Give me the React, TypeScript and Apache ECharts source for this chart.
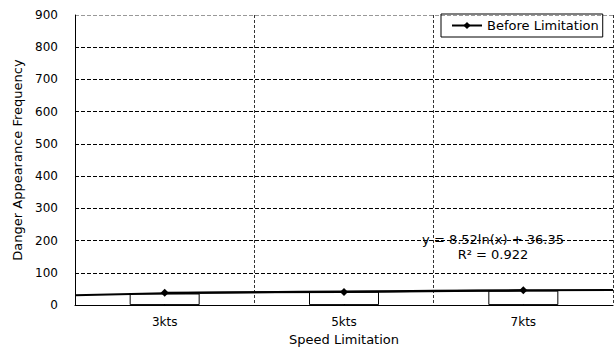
import React, { useEffect, useRef } from 'react';
import * as echarts from 'echarts';

const categories = ['3kts', '5kts', '7kts'];
const beforeLimitation = [38, 41, 46];
const boxValues = [36, 42, 45];
const trendX = [0.5, 1, 1.5, 2, 2.5, 3, 3.5];
const trendY = [30.5, 36.4, 39.8, 42.3, 44.2, 45.7, 47.0];
const yMin = 0;
const yMax = 900;
const yStep = 100;
const trendEquation = 'y = 8.52ln(x) + 36.35';
const trendR2 = 'R² = 0.922';

const FONT = 'DejaVu Sans, Liberation Sans, sans-serif';

export default function App() {
  const ref = useRef<HTMLDivElement>(null);
  useEffect(() => {
    document.body.style.margin = '0';
    const chart = echarts.init(ref.current!, null, { renderer: 'svg' });
    const gridColors = Array.from({ length: 10 }, (_, i) => (i === 9 ? '#999' : '#000'));
    chart.setOption({
      animation: false,
      backgroundColor: '#fff',
      textStyle: { fontFamily: FONT },
      grid: { left: 75, right: 3, top: 15, bottom: 42, containLabel: false },
      legend: {
        data: [{ name: 'Before Limitation' }],
        left: 441,
        top: 14,
        padding: [5, 4, 5, 10],
        borderColor: '#000',
        borderWidth: 1,
        itemWidth: 30,
        itemHeight: 9,
        itemGap: 6,
        textStyle: { fontSize: 13, color: '#000', fontFamily: FONT },
      },
      xAxis: [
        {
          type: 'category',
          data: categories,
          boundaryGap: true,
          name: 'Speed Limitation',
          nameLocation: 'middle',
          nameGap: 24,
          nameTextStyle: { fontSize: 13, color: '#000', fontFamily: FONT },
          axisLine: { show: true, lineStyle: { color: '#000', width: 1 } },
          axisTick: { show: true, alignWithLabel: true, inside: true, length: 4, lineStyle: { color: '#000' } },
          axisLabel: { fontSize: 12, color: '#000', margin: 11, fontFamily: FONT },
          splitLine: { show: true, interval: 0, lineStyle: { color: '#333', type: [3, 2], width: 1 } },
        },
        {
          type: 'value',
          min: 0.5,
          max: 3.5,
          show: false,
        },
      ],
      yAxis: {
        type: 'value',
        min: yMin,
        max: yMax,
        interval: yStep,
        name: 'Danger Appearance Frequency',
        nameLocation: 'middle',
        nameGap: 50,
        nameRotate: 90,
        nameTextStyle: { fontSize: 13, color: '#000', fontFamily: FONT },
        axisLine: { show: true, lineStyle: { color: '#000', width: 1 } },
        axisTick: { show: false },
        axisLabel: { fontSize: 12, color: '#000', margin: 17, fontFamily: FONT },
        splitLine: { show: true, lineStyle: { color: gridColors, type: [4, 2], width: 1 } },
      },
      series: [
        {
          name: 'Boxes',
          type: 'bar',
          data: boxValues,
          barWidth: 70,
          itemStyle: { color: '#fff', borderColor: '#000', borderWidth: 1 },
          silent: true,
          z: 1,
        },
        {
          name: 'Trend',
          type: 'line',
          xAxisIndex: 1,
          data: trendX.map((x, i) => [x, trendY[i]]),
          smooth: true,
          symbol: 'none',
          lineStyle: { color: '#000', width: 2 },
          z: 2,
        },
        {
          name: 'Before Limitation',
          type: 'line',
          data: beforeLimitation,
          symbol: 'diamond',
          symbolSize: 8,
          color: '#000',
          itemStyle: { color: '#000' },
          lineStyle: { color: '#000', width: 2 },
          z: 3,
        },
      ],
      graphic: [
        {
          type: 'text',
          x: 493,
          y: 232,
          style: {
            text: trendEquation + '\n' + trendR2,
            fontSize: 13,
            lineHeight: 15,
            align: 'center',
            verticalAlign: 'top',
            fill: '#000',
            fontFamily: FONT,
          },
        },
      ],
    });
    return () => chart.dispose();
  }, []);
  return <div ref={ref} style={{ width: 616, height: 351 }} />;
}
